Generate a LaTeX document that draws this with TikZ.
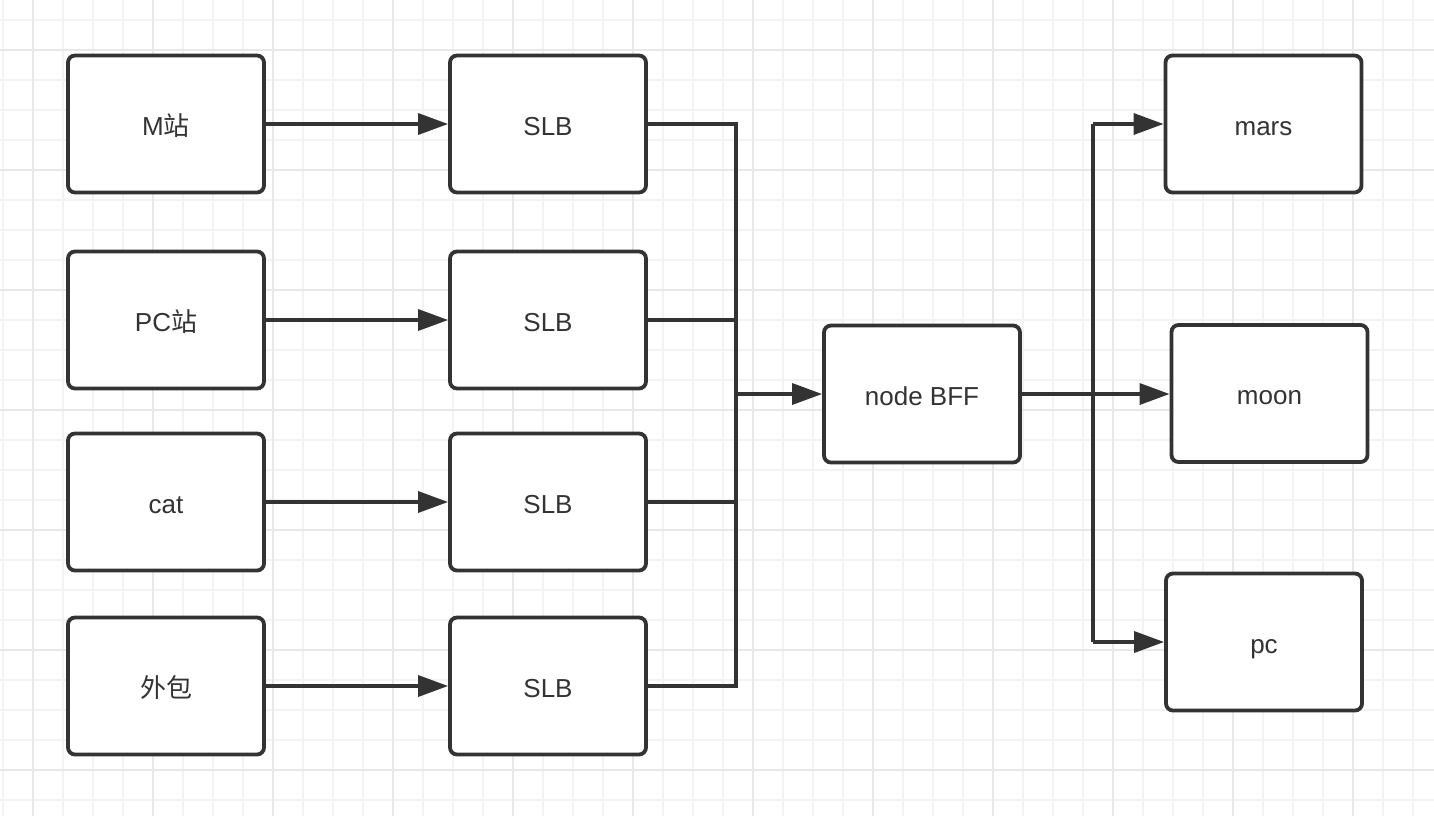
\documentclass[tikz,border=0pt]{standalone}
\usepackage{fontspec}
\setmainfont{Liberation Sans}
\newfontfamily\cjk{Noto Sans CJK SC}
\usetikzlibrary{arrows.meta}
\definecolor{ink}{HTML}{333333}
\definecolor{gridminor}{HTML}{F3F3F3}
\definecolor{gridmajor}{HTML}{E8E8E8}
\begin{document}
\begin{tikzpicture}[x=0.5pt,y=-0.5pt,
  box/.style={draw=ink, line width=1.9pt, rounded corners=3.5pt, fill=white,
    minimum width=98pt, minimum height=68.5pt, inner sep=0pt,
    text height=12pt, text depth=1pt,
    text=ink, font=\fontsize{13}{15}\selectfont},
  conn/.style={draw=ink, line width=1.7pt},
  arr/.style={conn, -{Triangle[length=15pt,width=10.5pt]}}]
\useasboundingbox (0,0) rectangle (1434,816);
\fill[white] (0,0) rectangle (1434,816);
% grid
\foreach \x in {3,33,...,1433} \draw[gridminor, line width=0.9pt] (\x,0) -- (\x,816);
\foreach \y in {20,50,...,815} \draw[gridminor, line width=0.9pt] (0,\y) -- (1434,\y);
\foreach \x in {33,153,...,1433} \draw[gridmajor, line width=0.9pt] (\x,0) -- (\x,816);
\foreach \y in {50,170,...,815} \draw[gridmajor, line width=0.9pt] (0,\y) -- (1434,\y);
% column 1
\node[box] (a1) at (166,124) {M{\cjk 站}};
\node[box] (a2) at (166,320) {PC{\cjk 站}};
\node[box] (a3) at (166,502) {cat};
\node[box] (a4) at (166,686) {{\cjk 外包}};
% column 2
\node[box] (s1) at (548,124) {SLB};
\node[box] (s2) at (548,320) {SLB};
\node[box] (s3) at (548,502) {SLB};
\node[box] (s4) at (548,686) {SLB};
% middle
\node[box] (bff) at (922,394) {node BFF};
% right
\node[box] (mars) at (1263.5,124) {mars};
\node[box] (moon) at (1269.5,393.5) {moon};
\node[box] (pc) at (1264,642) {pc};
% connectors
\foreach \i in {1,...,4} \draw[arr] (a\i.east) -- (s\i.west);
\coordinate (busT) at (736,124);
\coordinate (busB) at (736,686);
\coordinate (busM) at (736,394);
\draw[conn] (s1.east) -- (busT) -- (busB) -- (s4.east);
\draw[conn] (s2.east) -- (s2.east -| busT);
\draw[conn] (s3.east) -- (s3.east -| busT);
\draw[arr] (busM) -- (bff.west);
\coordinate (rT) at (1093,124);
\coordinate (rB) at (1093,642);
\draw[arr] (bff.east) -- (bff.east -| moon.west);
\draw[conn] (rT) -- (rB);
\draw[arr] (rT) -- (mars.west);
\draw[arr] (rB) -- (pc.west);
\end{tikzpicture}
\end{document}
